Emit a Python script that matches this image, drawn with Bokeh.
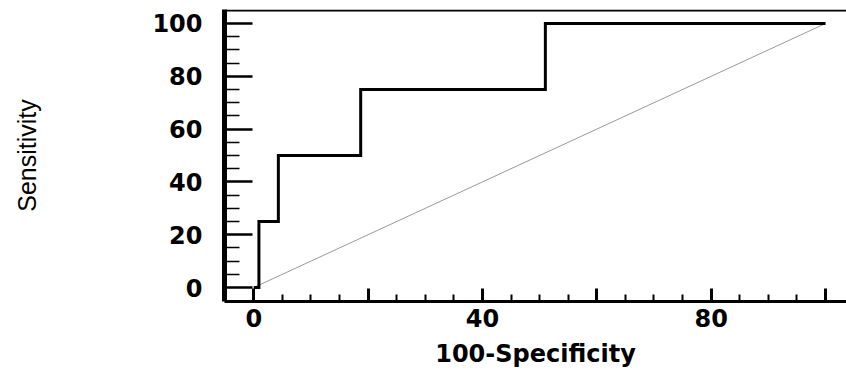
from bokeh.plotting import figure
from bokeh.models import Range1d, FixedTicker, Span
from bokeh.embed import file_html
from bokeh.resources import INLINE

# ROC curve points (100-Specificity, Sensitivity)
fpr = [0, 0.9, 0.9, 4.3, 4.3, 18.7, 18.7, 51.0, 51.0, 100]
tpr = [0, 0, 25, 25, 50, 50, 75, 75, 100, 100]
# reference (chance) diagonal
ref_x = [0, 100]
ref_y = [0, 100]

major_ticks = [0, 20, 40, 60, 80, 100]
minor_ticks = [5, 10, 15, 25, 30, 35, 45, 50, 55, 65, 70, 75, 85, 90, 95]
x_tick_labels = {0: "0", 20: "", 40: "40", 60: "", 80: "80", 100: ""}
y_tick_labels = {0: "0", 20: "20", 40: "40", 60: "60", 80: "80", 100: "100"}

Y_END = 105.3

p = figure(width=846, height=370, output_backend="svg", toolbar_location=None,
           x_range=Range1d(-5.12, 103.67), y_range=Range1d(-5.3, Y_END),
           min_border_left=224, min_border_right=0, min_border_top=9,
           min_border_bottom=69)
p.outline_line_color = None
p.xgrid.visible = False
p.ygrid.visible = False
p.background_fill_color = "white"
p.border_fill_color = "white"

p.line(ref_x, ref_y, line_color="#999999", line_width=1)
p.line(fpr, tpr, line_color="black", line_width=3, line_join="miter")

# top frame line
p.add_layout(Span(location=Y_END - 0.4, dimension="width", line_color="black",
                  line_width=2))

tick_font = "DejaVu Sans"

xa = p.xaxis[0]
xa.ticker = FixedTicker(ticks=major_ticks, minor_ticks=minor_ticks)
xa.major_label_overrides = x_tick_labels
xa.axis_line_width = 3
xa.major_tick_in = 13
xa.major_tick_out = 0
xa.major_tick_line_width = 3
xa.minor_tick_in = 7
xa.minor_tick_out = 0
xa.minor_tick_line_width = 2
xa.major_label_text_font = tick_font
xa.major_label_text_font_size = "24px"
xa.major_label_text_font_style = "bold"
xa.major_label_text_color = "black"
xa.major_label_standoff = 7
xa.axis_label = "100-Specificity"
xa.axis_label_text_font = tick_font
xa.axis_label_text_font_size = "24px"
xa.axis_label_text_font_style = "bold"
xa.axis_label_text_color = "black"
xa.axis_label_standoff = 10

ya = p.yaxis[0]
ya.ticker = FixedTicker(ticks=major_ticks, minor_ticks=minor_ticks)
ya.major_label_overrides = y_tick_labels
ya.axis_line_width = 5
ya.major_tick_in = 28
ya.major_tick_out = 0
ya.major_tick_line_width = 2.5
ya.minor_tick_in = 15
ya.minor_tick_out = 0
ya.minor_tick_line_width = 1.5
ya.major_label_text_font = tick_font
ya.major_label_text_font_size = "24px"
ya.major_label_text_font_style = "bold"
ya.major_label_text_color = "black"
ya.major_label_standoff = 22
ya.axis_label = "Sensitivity"
ya.axis_label_text_font = "Liberation Sans"
ya.axis_label_text_font_size = "25px"
ya.axis_label_text_font_style = "normal"
ya.axis_label_text_color = "black"
ya.axis_label_standoff = 108

open("out.html", "w").write(file_html(p, INLINE))
